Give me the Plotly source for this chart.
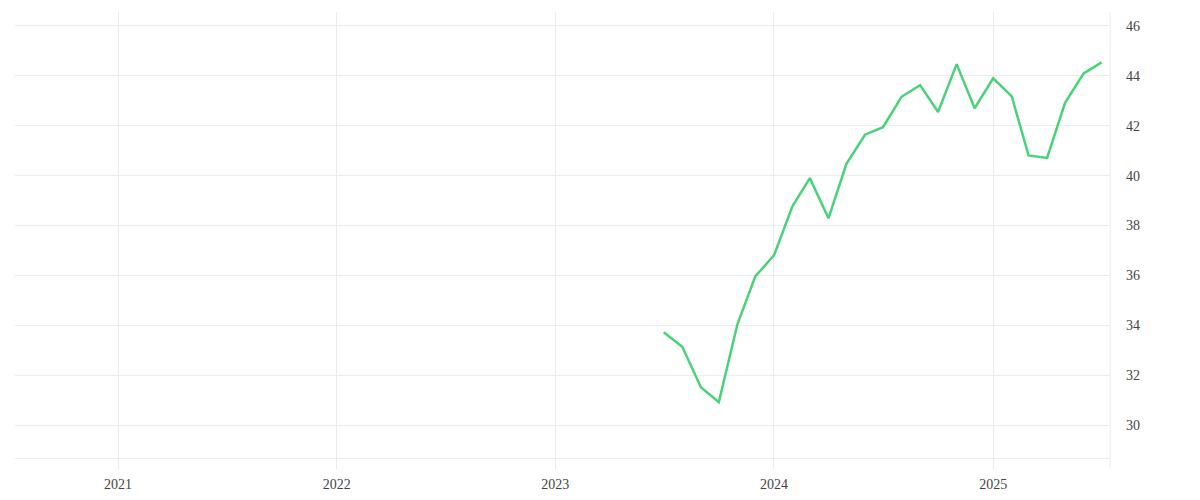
import pandas as pd
import plotly.graph_objects as go

# monthly series, Jul 2023 - Jul 2025
months = pd.date_range("2023-07-01", "2025-07-01", freq="MS")
values = [33.72, 33.14, 31.52, 30.92, 34.04, 35.97, 36.80, 38.78, 39.90, 38.29,
          40.47, 41.64, 41.94, 43.16, 43.63, 42.55, 44.47, 42.70, 43.90, 43.18,
          40.81, 40.71, 42.92, 44.10, 44.54]

x_ticks = ["2021-01-01", "2022-01-01", "2023-01-01", "2024-01-01", "2025-01-01"]
x_labels = ["2021", "2022", "2023", "2024", "2025"]
y_ticks = [30, 32, 34, 36, 38, 40, 42, 44, 46]

grid = "#ececec"

fig = go.Figure()
fig.add_trace(go.Scatter(
    x=months, y=values, mode="lines",
    line=dict(color="#4ad27a", width=2.5),
    showlegend=False,
))

# page body adds 8px, margins compensate
fig.update_layout(
    width=1200, height=500,
    margin=dict(l=7, r=98, t=4, b=50),
    plot_bgcolor="white", paper_bgcolor="white",
    font=dict(family="Liberation Serif", size=14, color="#444"),
    xaxis=dict(
        range=["2020-07-13", "2025-07-15"],
        tickvals=x_ticks, ticktext=x_labels,
        showgrid=True, gridcolor=grid, gridwidth=1,
        ticks="outside", ticklen=10, tickcolor=grid,
        ticklabelstandoff=3,
        showline=True, linecolor=grid, linewidth=1,
        zeroline=False,
    ),
    yaxis=dict(
        side="right",
        range=[28.68, 46.56],
        tickvals=y_ticks,
        showgrid=True, gridcolor=grid, gridwidth=1,
        ticks="", ticklabelstandoff=15,
        showline=False, zeroline=False,
    ),
    shapes=[dict(
        type="line", xref="paper", yref="paper",
        x0=1, x1=1, y0=-0.0224, y1=1,
        line=dict(color=grid, width=1),
    )],
)

fig.write_html("out.html")
